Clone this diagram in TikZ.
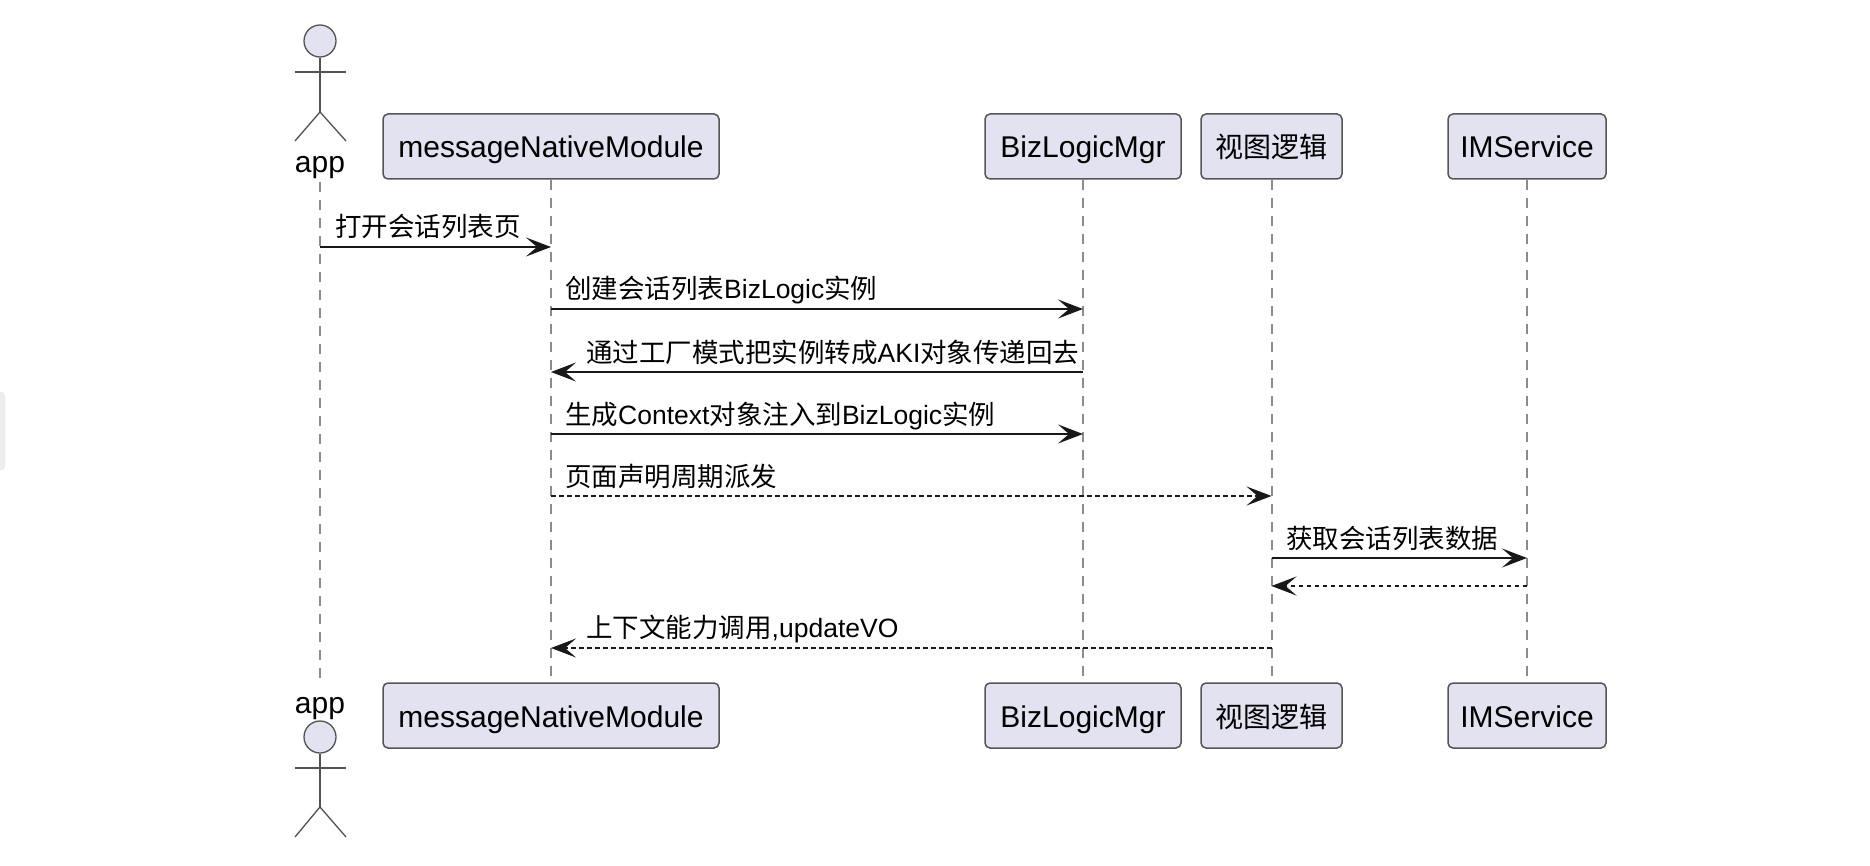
\documentclass[tikz,border=0pt]{standalone}
\usepackage{fontspec}
\setmainfont{Liberation Sans}
\newfontfamily\cjk{Noto Sans CJK SC}
\newcommand\zh[1]{{\cjk #1}}
\usetikzlibrary{arrows.meta}
\definecolor{boxfill}{HTML}{E2E2F0}
\definecolor{boxline}{HTML}{555555}
\definecolor{lifeline}{HTML}{8C8C8C}
\definecolor{ink}{HTML}{181818}
\tikzset{
  partbox/.style={draw=boxline, line width=1.5pt, fill=boxfill, rounded corners=5pt,
    minimum height=65pt, inner sep=0pt, font=\fontsize{30}{36}\selectfont,
    text height=31pt, text depth=8pt},
  lifeln/.style={draw=lifeline, line width=2pt, dash pattern=on 10pt off 8pt},
  actorln/.style={draw=ink!75, line width=1.3pt},
  msg/.style={draw=ink, line width=2pt, -{Stealth[length=25pt, width=19pt, inset=11pt]}},
  ret/.style={msg, dash pattern=on 4.5pt off 3.5pt},
  lbl/.style={anchor=base west, inner sep=0pt, font=\fontsize{26.5}{30}\selectfont, text=black},
  actlbl/.style={anchor=base, inner sep=0pt, font=\fontsize{30}{36}\selectfont, text=black}
}
\begin{document}
\begin{tikzpicture}[x=1pt, y=-1pt]
\useasboundingbox (0,0) rectangle (1870,866);
\fill[white] (0,0) rectangle (1870,866);
% faint artifact at the left edge
\filldraw[fill=black!7, draw=black!10, rounded corners=5pt] (-10,392) rectangle (5,470);

% top actor
\node[circle, draw=ink!75, line width=1.3pt, fill=boxfill, minimum size=32pt, inner sep=0pt] (apphead) at (320,41) {};
\coordinate (appneck) at (320,112);
\draw[actorln] (apphead.south) -- (appneck);
\draw[actorln] (295,72) -- (346,72);
\draw[actorln] (appneck) -- (295,141);
\draw[actorln] (appneck) -- (346,141);
\node[actlbl] (apptop) at (320,173) {app};

% bottom actor
\node[actlbl] (appbot) at (320,713) {app};
\node[circle, draw=ink!75, line width=1.3pt, fill=boxfill, minimum size=32pt, inner sep=0pt] (apphead2) at (320,737) {};
\coordinate (appneck2) at (320,807);
\draw[actorln] (apphead2.south) -- (appneck2);
\draw[actorln] (295,768) -- (346,768);
\draw[actorln] (appneck2) -- (295,837);
\draw[actorln] (appneck2) -- (346,837);

% participants top
\node[partbox, minimum width=336pt] (mnm) at (551,146.5) {messageNativeModule};
\node[partbox, minimum width=196pt] (biz) at (1083,146.5) {BizLogicMgr};
\node[partbox, minimum width=141pt, font=\fontsize{28}{34}\cjk] (view) at (1271.5,146.5) {视图逻辑};
\node[partbox, minimum width=158pt] (ims) at (1527,146.5) {IMService};
% participants bottom
\node[partbox, minimum width=336pt] (mnmb) at (551,715.5) {messageNativeModule};
\node[partbox, minimum width=196pt] (bizb) at (1083,715.5) {BizLogicMgr};
\node[partbox, minimum width=141pt, font=\fontsize{28}{34}\cjk] (viewb) at (1271.5,715.5) {视图逻辑};
\node[partbox, minimum width=158pt] (imsb) at (1527,715.5) {IMService};

% lifelines
\coordinate (applt) at (320,182);
\coordinate (applb) at (320,683);
\draw[lifeln] (applt) -- (applb);
\draw[lifeln] (mnm.south) -- (mnmb.north);
\draw[lifeln] (biz.south) -- (bizb.north);
\draw[lifeln] (view.south) -- (viewb.north);
\draw[lifeln] (ims.south) -- (imsb.north);

% message rows
\coordinate (r1) at (0,247);
\coordinate (r2) at (0,309);
\coordinate (r3) at (0,372);
\coordinate (r4) at (0,434);
\coordinate (r5) at (0,496);
\coordinate (r6) at (0,558);
\coordinate (r7) at (0,586);
\coordinate (r8) at (0,648);

\draw[msg] (applt |- r1) -- (mnm.south |- r1);
\node[lbl] (l1) at (335,237) {\zh{打开会话列表页}};

\draw[msg] (mnm.south |- r2) -- (biz.south |- r2);
\node[lbl] (l2) at (565,299) {\zh{创建会话列表}BizLogic\zh{实例}};

\draw[msg] (biz.south |- r3) -- (mnm.south |- r3);
\node[lbl] (l3) at (586,362) {\zh{通过工厂模式把实例转成}AKI\zh{对象传递回去}};

\draw[msg] (mnm.south |- r4) -- (biz.south |- r4);
\node[lbl] (l4) at (565,424) {\zh{生成}Context\zh{对象注入到}BizLogic\zh{实例}};

\draw[ret] (mnm.south |- r5) -- (view.south |- r5);
\node[lbl] (l5) at (565,486) {\zh{页面声明周期派发}};

\draw[msg] (view.south |- r6) -- (ims.south |- r6);
\node[lbl] (l6) at (1286,548) {\zh{获取会话列表数据}};

\draw[ret] (ims.south |- r7) -- (view.south |- r7);

\draw[ret] (view.south |- r8) -- (mnm.south |- r8);
\node[lbl] (l8) at (586,637) {\zh{上下文能力调用},updateVO};
\end{tikzpicture}
\end{document}
